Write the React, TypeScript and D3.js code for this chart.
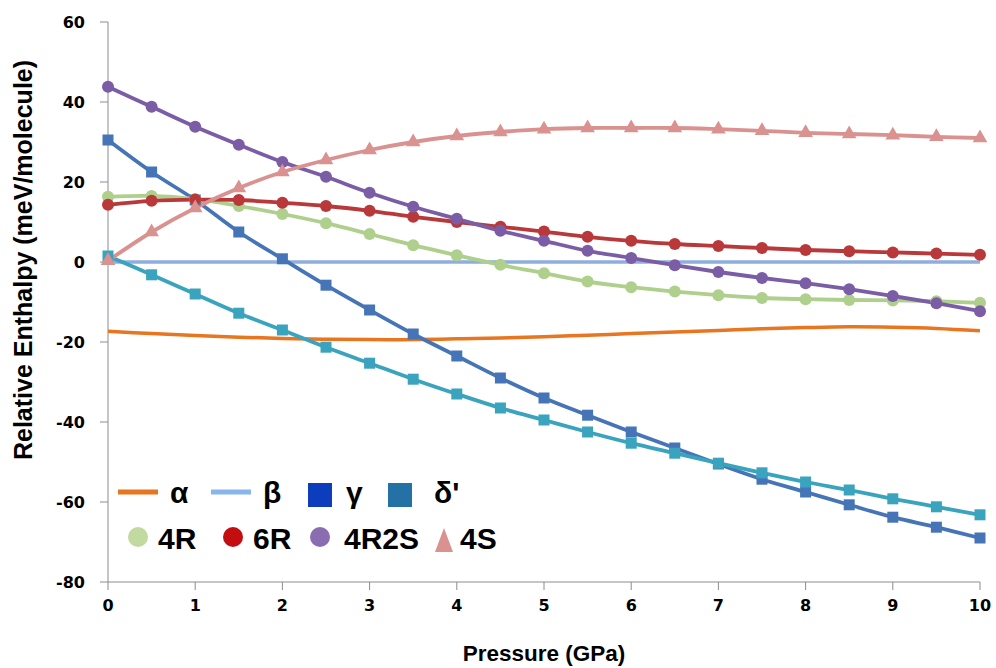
import React from 'react';
import * as d3 from 'd3';

// pressure grid (GPa)
const pressure = [0, 0.5, 1, 1.5, 2, 2.5, 3, 3.5, 4, 4.5, 5, 5.5, 6, 6.5, 7, 7.5, 8, 8.5, 9, 9.5, 10];

// relative enthalpy (meV/molecule)
const alpha = [-17.3, -17.9, -18.4, -18.8, -19.1, -19.3, -19.4, -19.4, -19.2, -19.0, -18.7, -18.3, -17.9, -17.5, -17.1, -16.7, -16.4, -16.2, -16.3, -16.6, -17.2];
const beta = [0, 0, 0, 0, 0, 0, 0, 0, 0, 0, 0, 0, 0, 0, 0, 0, 0, 0, 0, 0, 0];
const gamma = [30.5, 22.5, 15.5, 7.5, 0.8, -5.8, -12, -18, -23.5, -29, -34, -38.3, -42.5, -46.5, -50.5, -54.3, -57.5, -60.7, -63.8, -66.3, -69];
const deltaP = [1.5, -3.2, -8, -12.8, -17, -21.3, -25.3, -29.3, -33, -36.5, -39.5, -42.5, -45.3, -47.8, -50.3, -52.7, -55, -57, -59.2, -61.2, -63.2];
const s4R = [16.3, 16.5, 15.7, 14, 12, 9.7, 7, 4.2, 1.7, -0.7, -2.8, -4.9, -6.3, -7.4, -8.3, -9, -9.3, -9.5, -9.6, -9.8, -10.2];
const s6R = [14.3, 15.3, 15.6, 15.5, 14.8, 14, 12.8, 11.3, 10, 8.8, 7.6, 6.3, 5.3, 4.5, 4, 3.5, 3, 2.7, 2.4, 2.1, 1.8];
const s4R2S = [43.8, 38.8, 33.8, 29.3, 25, 21.3, 17.3, 13.8, 10.8, 7.8, 5.3, 2.8, 1, -0.8, -2.5, -4, -5.3, -6.8, -8.5, -10.3, -12.3];
const s4S = [0.3, 7.5, 13.5, 18.5, 22.5, 25.5, 28, 30, 31.5, 32.5, 33.2, 33.5, 33.5, 33.5, 33.2, 32.8, 32.3, 32, 31.7, 31.3, 31];

const xTicks = [0, 1, 2, 3, 4, 5, 6, 7, 8, 9, 10];
const yTicks = [-80, -60, -40, -20, 0, 20, 40, 60];

const series = [
  { name: 'α', values: alpha, color: '#E8751F', marker: 'none', legendColor: '#E8751F' },
  { name: 'β', values: beta, color: '#8EAEDD', marker: 'none', legendColor: '#86B6EC' },
  { name: 'γ', values: gamma, color: '#4675B7', marker: 'square', legendColor: '#0B3DBD' },
  { name: "δ'", values: deltaP, color: '#3AA3BD', marker: 'square', legendColor: '#2471A6' },
  { name: '4R', values: s4R, color: '#AFCF8C', marker: 'circle', legendColor: '#C2D9A0' },
  { name: '6R', values: s6R, color: '#B9393A', marker: 'circle', legendColor: '#C40D10' },
  { name: '4R2S', values: s4R2S, color: '#7B5DA6', marker: 'circle', legendColor: '#8A6DB0' },
  { name: '4S', values: s4S, color: '#D99290', marker: 'triangle', legendColor: '#D9928F' },
];

const W = 996;
const H = 668;
const margin = { left: 108, right: 16, top: 22, bottom: 86 };

const Marker = ({ type, x, y, color, size }) => {
  if (type === 'circle') return <circle cx={x} cy={y} r={size / 2} fill={color} />;
  if (type === 'square') return <rect x={x - size / 2} y={y - size / 2} width={size} height={size} fill={color} />;
  if (type === 'triangle') {
    const path = d3.symbol(d3.symbolTriangle, size * size * 0.55)();
    return <path d={path} transform={`translate(${x},${y})`} fill={color} />;
  }
  return null;
};

export default function App() {
  const x = d3.scaleLinear().domain([0, 10]).range([margin.left, W - margin.right - 0]);
  const y = d3.scaleLinear().domain([-80, 60]).range([H - margin.bottom, margin.top]);

  const line = d3.line<number>()
    .x((_, i) => x(pressure[i]))
    .y(d => y(d))
    .curve(d3.curveCatmullRom.alpha(0.5));

  const tickFont = { fontFamily: '"DejaVu Sans", Verdana, sans-serif', fontWeight: 'bold', fontSize: 16, fill: '#000' };
  const xTitleFont = { fontFamily: '"Liberation Sans", Arial, sans-serif', fontWeight: 'bold', fontSize: 22.5, fill: '#000' };
  const yTitleFont = { fontFamily: '"Liberation Sans", Arial, sans-serif', fontWeight: 'bold', fontSize: 25, fill: '#000' };
  const legendFont = { fontFamily: '"Liberation Sans", Arial, sans-serif', fontWeight: 'bold', fontSize: 30, fill: '#000' };

  const legendRow1 = [
    { s: series[0], sx: 118, tx: 170 },
    { s: series[1], sx: 211, tx: 263 },
    { s: series[2], sx: 308, tx: 346 },
    { s: series[3], sx: 388, tx: 434 },
  ];
  const legendRow2 = [
    { s: series[4], sx: 138, tx: 158 },
    { s: series[5], sx: 233, tx: 253 },
    { s: series[6], sx: 320, tx: 344 },
    { s: series[7], sx: 444, tx: 460 },
  ];

  return (
    <div style={{ position: 'absolute', left: 0, top: 0 }}>
      <svg width={W} height={H} style={{ display: 'block', background: '#fff' }}>
        {/* axes */}
        <line x1={margin.left} x2={margin.left} y1={y(60)} y2={y(-80)} stroke="#8c8c8c" />
        <line x1={margin.left} x2={x(10)} y1={y(-80)} y2={y(-80)} stroke="#8c8c8c" />
        {yTicks.map(t => (
          <g key={t}>
            <line x1={margin.left - 8} x2={margin.left} y1={y(t)} y2={y(t)} stroke="#8c8c8c" />
            <text x={85} y={y(t)} dy="0.36em" textAnchor="end" style={tickFont}>{t}</text>
          </g>
        ))}
        {xTicks.map(t => (
          <g key={t}>
            <line x1={x(t)} x2={x(t)} y1={y(-80)} y2={y(-80) + 8} stroke="#8c8c8c" />
            <text x={x(t)} y={611} textAnchor="middle" style={tickFont}>{t}</text>
          </g>
        ))}
        <text x={(margin.left + x(10)) / 2} y={661} textAnchor="middle" style={xTitleFont}>Pressure (GPa)</text>
        <text transform={`translate(32,260) rotate(-90)`} textAnchor="middle" style={yTitleFont}>
          Relative Enthalpy (meV/molecule)
        </text>

        {/* series lines */}
        {series.map(s => (
          <path key={s.name} d={line(s.values) || ''} fill="none" stroke={s.color}
            strokeWidth={s.marker === 'none' ? 3.5 : 3.8} strokeLinejoin="round" />
        ))}
        {/* markers */}
        {series.filter(s => s.marker !== 'none').map(s => (
          <g key={s.name}>
            {s.values.map((v, i) => (
              <Marker key={i} type={s.marker} x={x(pressure[i])} y={y(v)} color={s.color}
                size={s.marker === 'square' ? 11 : s.marker === 'triangle' ? 13 : 12} />
            ))}
          </g>
        ))}

        {/* legend */}
        {legendRow1.map(({ s, sx, tx }) => (
          <g key={s.name}>
            {s.marker === 'none'
              ? <line x1={sx} x2={sx + 40} y1={492} y2={492} stroke={s.legendColor} strokeWidth={5} />
              : <rect x={sx} y={483} width={24} height={24} fill={s.legendColor} />}
            <text x={tx} y={503} style={legendFont}>{s.name}</text>
          </g>
        ))}
        {legendRow2.map(({ s, sx, tx }) => (
          <g key={s.name}>
            {s.marker === 'triangle'
              ? <path d={`M${sx},${528} L${sx + 9},${552} L${sx - 9},${552} Z`} fill={s.legendColor} />
              : <circle cx={sx} cy={537} r={10} fill={s.legendColor} />}
            <text x={tx} y={549} style={legendFont}>{s.name}</text>
          </g>
        ))}
      </svg>
    </div>
  );
}
